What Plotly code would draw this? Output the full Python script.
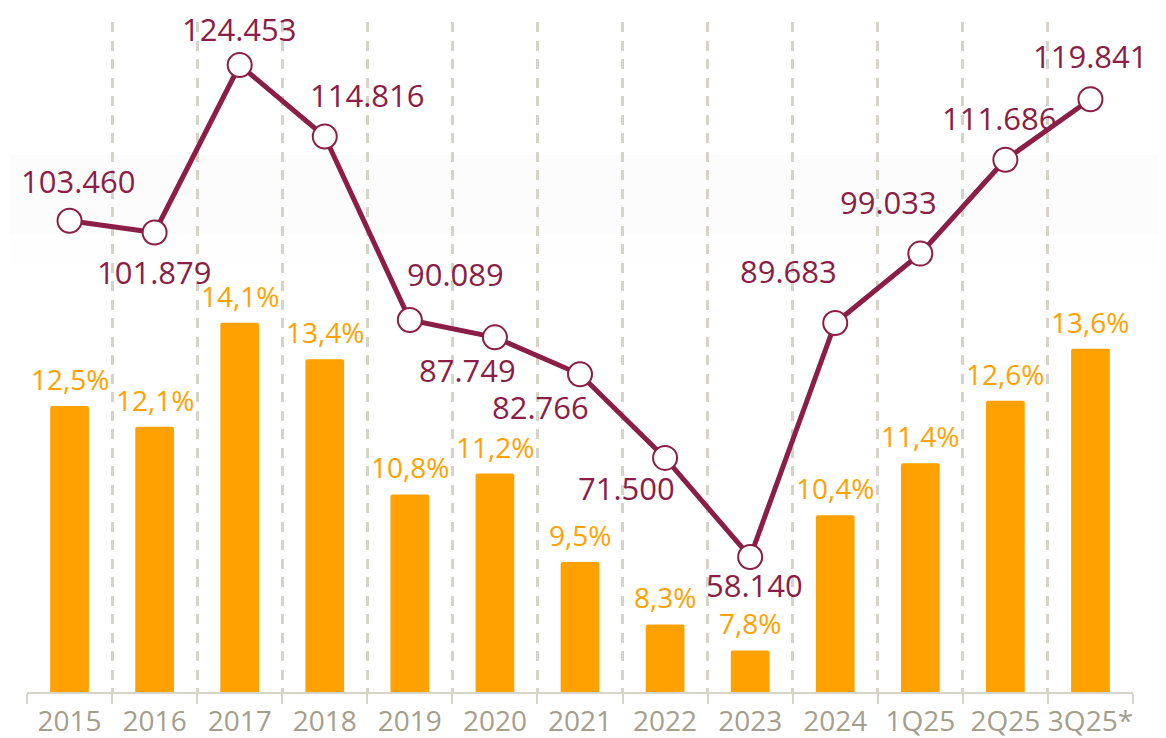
import plotly.graph_objects as go

categories = ["2015", "2016", "2017", "2018", "2019", "2020", "2021", "2022",
              "2023", "2024", "1Q25", "2Q25", "3Q25*"]
line_values = [103460, 101879, 124453, 114816, 90089, 87749, 82766, 71500,
               58140, 89683, 99033, 111686, 119841]
bar_values = [12.5, 12.1, 14.1, 13.4, 10.8, 11.2, 9.5, 8.3, 7.8, 10.4, 11.4, 12.6, 13.6]

# label offsets (styling, pixels)
line_label_shift = [(9, 40), (0, -40), (0, 36), (43, 42), (46, 46), (-27, -33),
                    (-40, -33), (-39, -30), (4, -28), (-47, 52), (-32, 52),
                    (-6, 42), (0, 43)]

MAROON = "#8A1E46"
ORANGE = "#FFA100"
GRID = "#D6D3CA"
TICKTXT = "#A49E8C"
FONT = "Open Sans"

# page body has an 8px margin; plot area target (page px): x 27..1133, y 22..692
fig = go.Figure()
fig.add_trace(go.Bar(
    x=categories, y=bar_values, width=0.455,
    marker=dict(color=ORANGE, cornerradius=2, line=dict(width=0)),
    yaxis="y", showlegend=False, hoverinfo="skip",
))
fig.add_trace(go.Scatter(
    x=categories, y=line_values, mode="lines+markers", yaxis="y2",
    line=dict(color=MAROON, width=5),
    marker=dict(size=24, color="white", line=dict(color=MAROON, width=2)),
    showlegend=False, cliponaxis=False, hoverinfo="skip",
))

annotations = []
for i, (v, (dx, dy)) in enumerate(zip(line_values, line_label_shift)):
    annotations.append(dict(
        x=i, y=v, xref="x", yref="y2", text=f"{v:,}".replace(",", "."),
        showarrow=False, xshift=dx, yshift=dy,
        font=dict(family=FONT, size=31, color=MAROON),
    ))
for i, v in enumerate(bar_values):
    annotations.append(dict(
        x=i, y=v, xref="x", yref="y", text=f"{v:.1f}%".replace(".", ","),
        showarrow=False, yshift=27,
        font=dict(family=FONT, size=28, color=ORANGE),
    ))

fig.update_layout(
    width=1166, height=738,
    margin=dict(l=19, r=41, t=14, b=54, autoexpand=False),
    paper_bgcolor="white", plot_bgcolor="white",
    annotations=annotations,
    xaxis=dict(
        type="category", range=[-0.5, 12.5], tickson="boundaries",
        tickangle=0, automargin=False, ticklabelstandoff=4,
        showgrid=True, gridcolor=GRID, gridwidth=2.5, griddash="10px,8.5px",
        showline=True, linecolor=GRID, linewidth=1.5,
        ticks="outside", ticklen=10, tickcolor=GRID, tickwidth=1.5,
        tickfont=dict(family=FONT, size=28, color=TICKTXT),
        fixedrange=True,
    ),
    yaxis=dict(range=[7.0, 19.885], visible=False, showgrid=False, zeroline=False),
    yaxis2=dict(range=[39945, 130248], overlaying="y", visible=False,
                showgrid=False, zeroline=False),
    shapes=[
        dict(type="rect", xref="paper", yref="paper", x0=-0.015, x1=1.025,
             y0=(692 - 234) / 670, y1=(692 - 155) / 670,
             fillcolor="#FCFCFC", line=dict(width=0), layer="below"),
        dict(type="rect", xref="paper", yref="paper", x0=-0.015, x1=1.025,
             y0=(692 - 265) / 670, y1=(692 - 234) / 670,
             fillcolor="#FEFEFE", line=dict(width=0), layer="below"),
    ],
)

fig.write_html("out.html")
